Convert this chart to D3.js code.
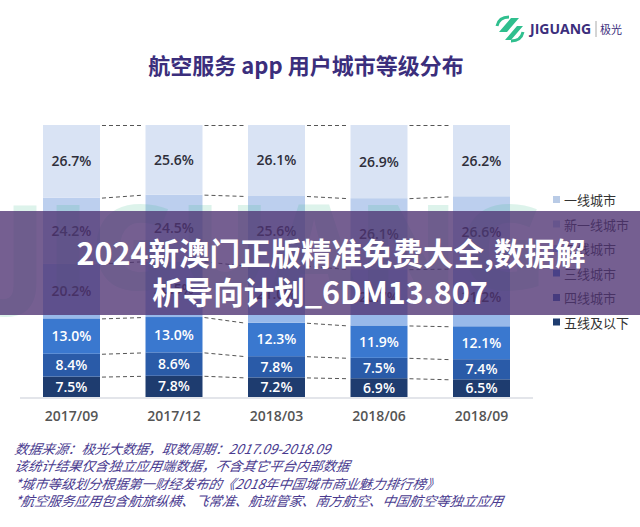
<!DOCTYPE html>
<html>
<head>
<meta charset="utf-8">
<script src="https://cdn.jsdelivr.net/npm/d3@7"></script>
<style>
  body { margin: 0; background: #fff; }
  svg { display: block; }
</style>
</head>
<body>
<div id="chart"></div>
<script>
// data
const periods = ["2017/09", "2017/12", "2018/03", "2018/06", "2018/09"];
const tiers = ["一线城市", "新一线城市", "二线城市", "三线城市", "四线城市", "五线及以下"];
const tier1 = [26.7, 25.6, 26.1, 26.9, 26.2];
const tierNew1 = [24.2, 24.5, 25.6, 26.1, 26.6];
const tier2 = [20.2, 20.5, 21.0, 20.7, 21.2];
const tier3 = [13.0, 13.0, 12.3, 11.9, 12.1];
const tier4 = [8.4, 8.6, 7.8, 7.5, 7.4];
const tier5 = [7.5, 7.8, 7.2, 6.9, 6.5];
const notes = [
  "数据来源：极光大数据，取数周期：2017.09-2018.09",
  "该统计结果仅含独立应用端数据，不含其它平台内部数据",
  " *城市等级划分根据第一财经发布的《2018年中国城市商业魅力排行榜》",
  " *航空服务应用包含航旅纵横、飞常准、航班管家、南方航空、中国航空等独立应用"
];

const W = 640, H = 527;
const colors = ["#d9e3f4", "#bccfee", "#98b9ea", "#3a78cf", "#2a5ba8", "#1e3c6f"];
const textColors = ["#2e2e3a", "#2e2e3a", "#2e2e3a", "#fff", "#fff", "#fff"];
const cjk = "'Noto Sans CJK SC', 'Noto Sans', sans-serif";

// stack bottom -> top is 五线 ... 一线
const seriesVals = [tier1, tierNew1, tier2, tier3, tier4, tier5];
const rows = periods.map((p, i) => {
  const r = { period: p };
  tiers.forEach((t, k) => r[t] = seriesVals[k][i]);
  return r;
});
const stack = d3.stack().keys(tiers.slice().reverse())(rows);

const svg = d3.select("#chart").append("svg")
    .attr("width", W).attr("height", H);

const x = d3.scaleBand().domain(periods).range([43, 510]).paddingInner(0.444).paddingOuter(0);
const y = d3.scaleLinear().domain([0, 100]).range([397, 125]);

// bars
stack.forEach(layer => {
  const k = tiers.indexOf(layer.key);
  const g = svg.append("g");
  g.selectAll("rect").data(layer).join("rect")
      .attr("x", d => x(d.data.period))
      .attr("y", d => y(d[1]))
      .attr("width", x.bandwidth())
      .attr("height", d => y(d[0]) - y(d[1]))
      .attr("fill", colors[k]);
  g.selectAll("text").data(layer).join("text")
      .attr("x", d => x(d.data.period) + x.bandwidth() / 2)
      .attr("y", d => (y(d[0]) + y(d[1])) / 2 + 5)
      .attr("text-anchor", "middle")
      .attr("font-family", "'Open Sans', sans-serif")
      .attr("font-weight", 600)
      .attr("font-size", 14)
      .attr("fill", textColors[k])
      .text(d => d.data[layer.key].toFixed(1) + "%");
});

// dashed connectors between bars
const tops = stack.map(l => l.map(d => d[1]));
tops.forEach(t => {
  for (let i = 0; i < periods.length - 1; i++) {
    svg.append("line")
        .attr("x1", x(periods[i]) + x.bandwidth() + 2)
        .attr("x2", x(periods[i + 1]) - 2)
        .attr("y1", y(t[i]) + 0.5)
        .attr("y2", y(t[i + 1]) + 0.5)
        .attr("stroke", "#555")
        .attr("stroke-width", 1)
        .attr("stroke-dasharray", "4,3");
  }
});

// baseline + x axis labels
svg.append("line")
    .attr("x1", 20).attr("x2", 533).attr("y1", 398).attr("y2", 398)
    .attr("stroke", "#e3e5ea").attr("stroke-width", 2);
const xAxis = svg.append("g")
    .attr("transform", "translate(0,398)")
    .call(d3.axisBottom(x).tickSize(0).tickPadding(13));
xAxis.select(".domain").remove();
xAxis.selectAll("text")
    .attr("font-family", "'Open Sans', sans-serif")
    .attr("font-weight", 600)
    .attr("font-size", 14)
    .attr("fill", "#555");

// legend
const legend = svg.append("g").attr("transform", "translate(553,200)");
tiers.forEach((t, k) => {
  const row = legend.append("g").attr("transform", `translate(0,${k * 24.5})`);
  row.append("rect").attr("x", 0).attr("y", -4).attr("width", 7).attr("height", 7)
      .attr("fill", k === 0 ? "#b9cbe6" : colors[k]);
  row.append("text").attr("x", 11).attr("y", 5)
      .attr("font-family", cjk).attr("font-size", 13).attr("fill", "#333")
      .text(t);
});

// title
svg.append("text")
    .attr("x", 306).attr("y", 74)
    .attr("text-anchor", "middle")
    .attr("font-family", cjk).attr("font-weight", 700).attr("font-size", 22)
    .attr("fill", "#3b2e7c")
    .text("航空服务 app 用户城市等级分布");

// logo
const logo = svg.append("g").attr("transform", "translate(497,16)");
logo.append("path")
    .attr("d", "M2,16 L14,2 L22,2 L10,16 Z M8,24 L20,10 L26,10 L14,24 Z")
    .attr("fill", "#2fbf8e");
logo.append("path")
    .attr("d", "M0,10 Q2,1 12,1 M26,16 Q24,25 14,25")
    .attr("fill", "none").attr("stroke", "#2fbf8e").attr("stroke-width", 3);
logo.append("text").attr("x", 33).attr("y", 18)
    .attr("font-family", "'Open Sans', sans-serif").attr("font-weight", 700).attr("font-size", 14)
    .attr("fill", "#3b2e7c").text("JIGUANG");
logo.append("line").attr("x1", 99).attr("x2", 99).attr("y1", 5).attr("y2", 21)
    .attr("stroke", "#aaa").attr("stroke-width", 1);
logo.append("text").attr("x", 103).attr("y", 18)
    .attr("font-family", cjk).attr("font-size", 11)
    .attr("fill", "#3b2e7c").text("极光");

// footnotes
svg.append("g").selectAll("text").data(notes).join("text")
    .attr("x", 14)
    .attr("y", (d, i) => 454 + i * 17.5)
    .attr("font-family", cjk).attr("font-style", "italic").attr("font-size", 13.4)
    .attr("fill", "#4a3b8f")
    .attr("transform", "skewX(-10)")
    .attr("dx", (d, i) => 0.1763 * (454 + i * 17.5))
    .text(d => d);

// faint watermark
svg.append("text")
    .attr("x", 4).attr("y", 290)
    .attr("font-family", "'Open Sans', sans-serif").attr("font-weight", 800).attr("font-size", 118)
    .attr("letter-spacing", 2)
    .attr("fill", "#35b98a").attr("opacity", 0.16)
    .text("JIGUANG");

// overlay banner
svg.append("rect")
    .attr("x", 0).attr("y", 211).attr("width", W).attr("height", 104)
    .attr("fill", "#4e3272").attr("opacity", 0.78);
svg.append("g").selectAll("text")
    .data(["2024新澳门正版精准免费大全,数据解", "析导向计划_6DM13.807"])
    .join("text")
    .attr("x", (d, i) => i === 0 ? 331 : 320)
    .attr("y", (d, i) => 265 + i * 39)
    .attr("text-anchor", "middle")
    .attr("font-family", cjk).attr("font-weight", 700).attr("font-size", 30.5)
    .attr("fill", "#fff")
    .text(d => d);
</script>
</body>
</html>
